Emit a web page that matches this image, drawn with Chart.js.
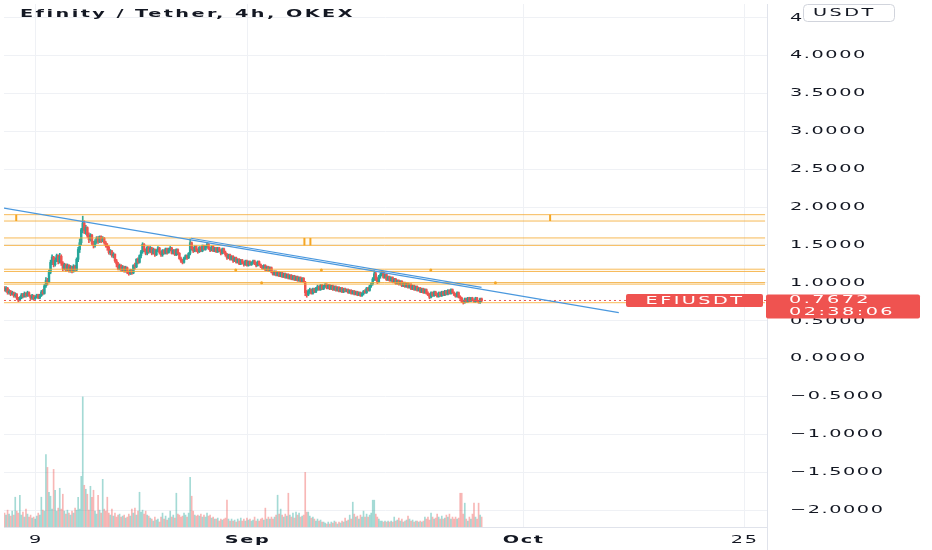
<!DOCTYPE html>
<html><head><meta charset="utf-8">
<script src="https://cdn.jsdelivr.net/npm/chart.js@4.4.0/dist/chart.umd.min.js"></script>
<style>html,body{margin:0;padding:0;background:#fff;overflow:hidden}canvas{display:block}</style>
</head><body>
<canvas id="c" width="932" height="550"></canvas>
<script>
// ---------- data ----------
const title = 'Efinity / Tether, 4h, OKEX';
const symbol = 'EFIUSDT';
const currency = 'USDT';
const countdown = '02:38:06';
const firstCandleDay = 4.6;          // days since 1 Aug 2021
const candleStepDays = 1 / 6;        // 4h candles
const firstOpen = 0.93;
const close = [
0.90,0.93,0.87,0.89,0.85,0.87, 0.83,0.85,0.80,0.77,0.80,0.84, 0.82,0.86,0.83,0.87,0.83,0.80,
0.83,0.79,0.81,0.84,0.80,0.83, 0.88,0.86,0.96,1.03,1.01,1.14, 1.27,1.34,1.24,1.30,1.36,1.28,
1.35,1.26,1.19,1.24,1.17,1.23, 1.16,1.21,1.15,1.22,1.17,1.31, 1.44,1.53,1.70,1.79,1.69,1.73,
1.62,1.57,1.63,1.52,1.49,1.55, 1.59,1.54,1.61,1.55,1.59,1.53, 1.49,1.47,1.40,1.42,1.36,1.38,
1.29,1.25,1.19,1.23,1.17,1.21, 1.16,1.20,1.14,1.12,1.17,1.13, 1.23,1.21,1.31,1.27,1.36,1.41,
1.51,1.43,1.39,1.47,1.41,1.46, 1.39,1.44,1.37,1.43,1.46,1.40, 1.37,1.43,1.39,1.45,1.40,1.44,
1.46,1.39,1.43,1.37,1.44,1.39, 1.32,1.29,1.27,1.33,1.36,1.33, 1.39,1.53,1.45,1.42,1.48,1.43,
1.41,1.47,1.42,1.49,1.44,1.48, 1.51,1.45,1.43,1.48,1.42,1.46, 1.41,1.46,1.42,1.39,1.45,1.40,
1.37,1.33,1.37,1.31,1.35,1.29, 1.33,1.27,1.31,1.25,1.30,1.26, 1.24,1.29,1.23,1.28,1.24,1.27,
1.29,1.25,1.23,1.28,1.24,1.21, 1.19,1.23,1.17,1.21,1.16,1.20, 1.14,1.11,1.15,1.10,1.14,1.09,
1.13,1.08,1.12,1.07,1.11,1.06, 1.10,1.05,1.09,1.04,1.08,1.03, 1.07,1.02,1.06,1.01,0.87,0.84,
0.89,0.91,0.86,0.92,0.88,0.93, 0.95,0.91,0.97,0.92,0.96,0.98, 0.93,0.97,0.92,0.96,0.91,0.95,
0.90,0.94,0.89,0.93,0.88,0.92, 0.89,0.91,0.87,0.90,0.86,0.89, 0.85,0.88,0.84,0.87,0.83,0.86,
0.89,0.87,0.93,0.90,0.96,0.99, 1.05,1.12,1.05,1.01,1.09,1.11, 1.14,1.07,1.11,1.04,1.08,1.03,
1.07,1.01,1.05,0.99,1.03,0.98, 1.02,0.96,1.00,0.95,0.99,0.94, 0.98,0.92,0.96,0.91,0.95,0.90,
0.93,0.88,0.92,0.87,0.91,0.86, 0.84,0.81,0.87,0.83,0.88,0.84, 0.82,0.87,0.83,0.88,0.84,0.89,
0.85,0.90,0.86,0.91,0.87,0.84, 0.82,0.87,0.81,0.80,0.75,0.74, 0.79,0.75,0.80,0.76,0.80,0.77,
0.75,0.80,0.76,0.74,0.79,0.7672
];
const high = [
0.95,0.95,0.94,0.91,0.90,0.89, 0.88,0.87,0.86,0.81,0.82,0.86, 0.86,0.88,0.87,0.89,0.88,0.84,
0.85,0.84,0.83,0.85,0.85,0.85, 0.90,0.91,0.98,1.07,1.06,1.17, 1.30,1.37,1.35,1.33,1.38,1.37,
1.39,1.37,1.28,1.26,1.25,1.25, 1.24,1.23,1.22,1.24,1.23,1.33, 1.47,1.58,1.72,1.88,1.82,1.76,
1.74,1.66,1.65,1.64,1.55,1.57, 1.61,1.61,1.62,1.62,1.61,1.60, 1.55,1.52,1.49,1.44,1.43,1.40,
1.38,1.31,1.27,1.25,1.24,1.23, 1.22,1.22,1.21,1.16,1.18,1.18, 1.24,1.26,1.32,1.33,1.37,1.43,
1.53,1.52,1.45,1.48,1.48,1.48, 1.47,1.46,1.45,1.44,1.48,1.47, 1.42,1.44,1.44,1.46,1.46,1.46,
1.48,1.47,1.44,1.44,1.45,1.45, 1.40,1.34,1.31,1.34,1.37,1.37, 1.40,1.58,1.54,1.47,1.49,1.49,
1.45,1.48,1.48,1.50,1.50,1.49, 1.53,1.52,1.47,1.49,1.49,1.47, 1.47,1.47,1.47,1.44,1.46,1.46,
1.42,1.39,1.38,1.38,1.36,1.36, 1.34,1.34,1.32,1.32,1.31,1.31, 1.28,1.30,1.30,1.29,1.29,1.28,
1.30,1.30,1.27,1.29,1.29,1.25, 1.23,1.24,1.24,1.22,1.22,1.21, 1.21,1.16,1.16,1.16,1.15,1.15,
1.14,1.14,1.13,1.13,1.12,1.12, 1.11,1.11,1.10,1.10,1.09,1.09, 1.08,1.08,1.07,1.07,1.02,0.90,
0.91,0.93,0.92,0.93,0.93,0.94, 0.97,0.96,0.98,0.98,0.97,0.99, 0.99,0.98,0.98,0.97,0.97,0.96,
0.96,0.95,0.95,0.94,0.94,0.93, 0.93,0.92,0.92,0.91,0.91,0.90, 0.90,0.89,0.89,0.88,0.88,0.87,
0.90,0.91,0.94,0.94,0.97,1.00, 1.07,1.16,1.14,1.07,1.10,1.13, 1.16,1.15,1.12,1.12,1.09,1.09,
1.08,1.08,1.06,1.06,1.04,1.04, 1.03,1.03,1.01,1.01,1.00,1.00, 0.99,0.99,0.97,0.97,0.96,0.96,
0.94,0.94,0.93,0.93,0.92,0.92, 0.88,0.86,0.88,0.88,0.89,0.89, 0.86,0.88,0.88,0.89,0.89,0.90,
0.90,0.91,0.91,0.92,0.92,0.88, 0.86,0.88,0.88,0.83,0.81,0.77, 0.80,0.80,0.81,0.81,0.81,0.81,
0.78,0.81,0.81,0.77,0.80,0.80
];
const low = [
0.89,0.88,0.85,0.85,0.83,0.84, 0.81,0.81,0.78,0.75,0.76,0.79, 0.80,0.81,0.81,0.82,0.82,0.78,
0.78,0.77,0.78,0.80,0.79,0.79, 0.82,0.84,0.85,0.94,0.97,1.00, 1.12,1.24,1.21,1.22,1.28,1.25,
1.26,1.23,1.16,1.17,1.15,1.16, 1.14,1.14,1.13,1.14,1.15,1.16, 1.28,1.40,1.50,1.66,1.65,1.64,
1.60,1.53,1.55,1.50,1.46,1.47, 1.52,1.52,1.53,1.53,1.54,1.51, 1.47,1.43,1.38,1.37,1.34,1.33,
1.27,1.21,1.17,1.17,1.15,1.15, 1.14,1.14,1.12,1.10,1.11,1.11, 1.12,1.18,1.20,1.25,1.26,1.33,
1.39,1.41,1.37,1.37,1.39,1.40, 1.37,1.38,1.35,1.36,1.41,1.38, 1.35,1.35,1.38,1.38,1.38,1.39,
1.42,1.38,1.38,1.36,1.36,1.37, 1.31,1.27,1.25,1.26,1.31,1.31, 1.32,1.37,1.43,1.40,1.41,1.41,
1.39,1.40,1.41,1.41,1.43,1.43, 1.46,1.44,1.41,1.42,1.41,1.41, 1.40,1.40,1.41,1.37,1.38,1.39,
1.35,1.31,1.32,1.30,1.30,1.27, 1.28,1.26,1.26,1.24,1.24,1.25, 1.22,1.23,1.22,1.22,1.23,1.23,
1.25,1.24,1.21,1.22,1.23,1.20, 1.18,1.18,1.16,1.16,1.15,1.15, 1.13,1.10,1.10,1.09,1.09,1.08,
1.08,1.07,1.07,1.06,1.06,1.05, 1.05,1.04,1.04,1.03,1.03,1.02, 1.02,1.01,1.01,1.00,0.83,0.81,
0.83,0.86,0.85,0.85,0.87,0.87, 0.90,0.90,0.90,0.91,0.91,0.94, 0.92,0.92,0.91,0.91,0.90,0.90,
0.89,0.89,0.88,0.88,0.87,0.87, 0.88,0.88,0.86,0.86,0.85,0.85, 0.84,0.84,0.83,0.83,0.82,0.82,
0.84,0.86,0.86,0.89,0.89,0.94, 0.97,1.03,1.03,0.99,1.00,1.06, 1.09,1.06,1.06,1.03,1.03,1.02,
1.02,1.00,1.00,0.98,0.98,0.97, 0.97,0.95,0.95,0.94,0.94,0.93, 0.93,0.91,0.91,0.90,0.90,0.89,
0.89,0.87,0.87,0.86,0.86,0.85, 0.83,0.79,0.80,0.82,0.82,0.83, 0.81,0.81,0.82,0.82,0.83,0.83,
0.84,0.84,0.85,0.85,0.86,0.83, 0.81,0.81,0.80,0.78,0.74,0.72, 0.73,0.74,0.74,0.75,0.75,0.76,
0.74,0.74,0.75,0.73,0.73,0.75
];
const volume = [ // thousand EFI
140,120,170,130,110,160, 120,300,160,140,320,120, 150,100,180,130,100,120,
90,100,80,110,140,120, 300,170,160,730,600,350, 310,180,580,370,160,190,
390,180,330,160,130,170, 140,120,160,140,190,170, 300,180,510,1310,420,380,
330,170,410,300,370,160, 130,320,170,140,480,180, 160,300,140,120,180,110,
140,100,120,130,100,110, 120,90,100,130,110,180, 140,190,120,160,350,150,
170,130,160,120,110,90, 80,60,100,70,80,50, 100,140,80,110,70,90,
160,100,120,90,340,130, 120,100,110,140,120,100, 140,500,310,160,120,110,
120,110,130,100,120,100, 140,110,120,90,100,80, 80,90,60,80,70,80,
90,270,80,60,80,60, 70,50,80,60,90,60, 80,60,90,70,80,60,
70,100,60,80,60,80, 90,70,190,80,100,80, 100,80,100,120,320,130,
180,120,100,130,110,340, 120,100,140,90,150,120, 140,100,110,120,550,150,
150,110,90,100,80,60, 80,60,70,50,50,40, 30,50,30,50,40,60,
50,30,50,40,60,50, 90,60,70,120,80,250, 130,100,110,80,120,100,
160,100,130,100,120,140, 270,270,130,100,80,60, 60,50,60,50,60,50,
60,50,100,60,70,90, 60,80,50,60,70,110, 80,60,70,50,60,60,
50,60,50,60,100,80, 100,70,140,100,80,90, 130,100,80,110,80,90,
120,100,130,80,100,80, 100,80,90,340,340,130, 240,80,60,100,80,130,
240,100,80,240,120,100
];
const xTickDays = [8, 31, 61, 85];
const xTickLabels = ['9', 'Sep', 'Oct', '25'];
const monthLabels = ['Sep', 'Oct'];
const zonePairs = [[1.900, 1.816], [1.593, 1.494], [1.180, 1.150], [1.004, 0.983]];
const supportLevel = 0.738;
const trendLineA = [[4.545, 1.986], [71.33, 0.607]];
const trendLineB = [[24.86, 1.589], [56.42, 0.941]];
const zoneEdges = [[5.874, 1.816, 1.900], [37.18, 1.494, 1.593], [37.83, 1.494, 1.593], [63.87, 1.816, 1.900]];
const zoneDots = [[29.72, 1.17], [39.02, 1.17], [50.91, 1.17], [32.53, 1.0], [57.93, 1.0]];
const X_MIN = 4.545, X_MAX = 87.43, X_LINE_END = 87.22, Y_MIN = -2.223, Y_MAX = 4.681;

// ---------- derived ----------
const lastPrice = close[close.length - 1];
const days = close.map((_, i) => firstCandleDay + i * candleStepDays);
const open = close.map((c, i) => i === 0 ? firstOpen : close[i - 1]);
const isUp = close.map((c, i) => c >= open[i]);
const UP = '#26a69a', DN = '#ef5350';
const candleColors = isUp.map(u => u ? UP : DN);
const volColors = isUp.map(u => u ? 'rgba(38,166,154,0.42)' : 'rgba(239,83,80,0.42)');
const FONT = '"DejaVu Sans", sans-serif';
const GRID = '#eff1f5';
const ORANGE = 'rgba(245,170,50,0.8)';
const TEXT_SX = 1.75;

const canvas = document.getElementById('c');
const ctx = canvas.getContext('2d');
const baseFillText = ctx.fillText;
ctx.fillText = function (text, x, y) {
  this.save();
  this.letterSpacing = this.__ls || '0.9px';
  this.translate(x, y);
  this.scale(TEXT_SX, 1);
  baseFillText.call(this, text, 0, 0);
  this.restore();
};

function seg(points, color, width, extra) {
  return Object.assign({
    type: 'line', yAxisID: 'y', data: points.map(p => ({ x: p[0], y: p[1] })),
    borderColor: color, borderWidth: width, pointRadius: 0, fill: false, tension: 0, order: 5
  }, extra || {});
}

const datasets = [
  { type: 'bar', yAxisID: 'yVol', grouped: false, order: 10, barThickness: 1,
    data: days.map((d, i) => ({ x: d, y: volume[i] })), backgroundColor: volColors },
  { type: 'bar', yAxisID: 'y', grouped: false, order: 8, barThickness: 1,
    data: days.map((d, i) => ({ x: d, y: [Math.min(low[i], open[i], close[i]), Math.max(high[i], open[i], close[i])] })),
    backgroundColor: candleColors },
  { type: 'bar', yAxisID: 'y', grouped: false, order: 7, barThickness: 1.8, minBarLength: 1.5,
    data: days.map((d, i) => ({ x: d, y: [open[i], close[i]] })), backgroundColor: candleColors }
];
zonePairs.forEach(pair => {
  datasets.push(seg([[X_MIN, pair[0]], [X_LINE_END, pair[0]]], ORANGE, 1));
  datasets.push(seg([[X_MIN, pair[1]], [X_LINE_END, pair[1]]], ORANGE, 1,
    { fill: '-1', backgroundColor: 'rgba(255,200,100,0.08)' }));
});
datasets.push(seg([[X_MIN, supportLevel], [X_LINE_END, supportLevel]], ORANGE, 1));
zoneEdges.forEach(e => datasets.push(seg([[e[0], e[1]], [e[0], e[2]]], '#f5a623', 2, { order: 4 })));
datasets.push(seg([[X_MIN, lastPrice], [X_MAX, lastPrice]], DN, 1, { borderDash: [2, 3], order: 4 }));
datasets.push(seg(trendLineA, '#4a98de', 1.2, { order: 3 }));
datasets.push(seg(trendLineB, '#4a98de', 1.2, { order: 3 }));
datasets.push({ type: 'line', yAxisID: 'y', showLine: false, order: 2,
  data: zoneDots.map(p => ({ x: p[0], y: p[1] })),
  pointRadius: 1.5, pointBackgroundColor: '#f5a623', pointBorderWidth: 0 });

function labelFor(v) {
  const k = xTickDays.indexOf(v);
  return k >= 0 ? xTickLabels[k] : '';
}
function zeroPad(s) { s.paddingTop = 0; s.paddingBottom = 0; s.paddingLeft = 0; s.paddingRight = 0; }

function roundRect(c, x, y, w, h, r) {
  c.beginPath();
  c.moveTo(x + r, y); c.lineTo(x + w - r, y); c.quadraticCurveTo(x + w, y, x + w, y + r);
  c.lineTo(x + w, y + h - r); c.quadraticCurveTo(x + w, y + h, x + w - r, y + h);
  c.lineTo(x + r, y + h); c.quadraticCurveTo(x, y + h, x, y + h - r);
  c.lineTo(x, y + r); c.quadraticCurveTo(x, y, x + r, y); c.closePath();
}

const overlay = {
  id: 'overlay',
  afterDraw(chart) {
    const c = chart.ctx, ca = chart.chartArea;
    const py = chart.scales.y.getPixelForValue(lastPrice);
    c.save();
    c.strokeStyle = '#e0e3eb'; c.lineWidth = 1;
    c.beginPath(); c.moveTo(ca.right + 0.5, ca.bottom); c.lineTo(ca.right + 0.5, chart.height); c.stroke();
    // title
    c.font = 'bold 11px ' + FONT; c.fillStyle = '#131722'; c.textAlign = 'left'; c.textBaseline = 'alphabetic';
    c.__ls = '1.4px'; c.fillText(title, 20, 17); c.__ls = null;
    // currency box
    roundRect(c, ca.right + 36.5, 4.5, 91, 17, 4);
    c.fillStyle = '#fff'; c.fill(); c.strokeStyle = '#d1d4dc'; c.stroke();
    c.font = '11px ' + FONT; c.fillStyle = '#131722'; c.textBaseline = 'middle';
    c.__ls = '1.4px'; c.fillText(currency, ca.right + 46, 13);
    // symbol label
    c.fillStyle = DN;
    roundRect(c, ca.right - 141, py - 6.5, 137, 13, 2); c.fill();
    c.fillStyle = '#fff'; c.textAlign = 'center';
    c.fillText(symbol, ca.right - 72, py + 0.5);
    // price label
    c.fillStyle = DN;
    roundRect(c, ca.right - 1, py - 6, 154, 24, 2); c.fill();
    c.fillStyle = '#fff'; c.textAlign = 'left';
    c.fillText(lastPrice.toFixed(4), ca.right + 22, py);
    c.fillText(countdown, ca.right + 22, py + 11.5);
    c.__ls = null;
    c.restore();
  }
};

new Chart(ctx, {
  type: 'bar',
  data: { datasets },
  options: {
    responsive: false, animation: false, devicePixelRatio: 1, events: [],
    layout: { padding: 0 },
    plugins: { legend: { display: false }, tooltip: { enabled: false }, title: { display: false } },
    scales: {
      x: {
        type: 'linear', min: X_MIN, max: X_MAX, offset: false,
        grid: { color: GRID, offset: false, drawTicks: false },
        border: { color: '#e0e3eb' },
        afterBuildTicks: s => { s.ticks = xTickDays.map(v => ({ value: v })); },
        afterFit: s => { s.height = 23; zeroPad(s); },
        ticks: {
          padding: 7, color: '#131722', autoSkip: false, maxRotation: 0,
          font: c => ({ family: FONT, size: 11, weight: monthLabels.includes(labelFor(c.tick ? c.tick.value : null)) ? 'bold' : 'normal' }),
          callback: v => labelFor(v)
        }
      },
      y: {
        position: 'right', min: Y_MIN, max: Y_MAX, beginAtZero: false,
        grid: { color: GRID, drawTicks: false },
        border: { color: '#e0e3eb' },
        afterFit: s => { s.width = 165; zeroPad(s); },
        ticks: {
          stepSize: 0.5, includeBounds: false, maxTicksLimit: 30, padding: 23, color: '#131722',
          font: { family: FONT, size: 11 },
          callback: v => (v < 0 ? '\u2212' : '') + Math.abs(v).toFixed(4)
        }
      },
      yVol: { display: false, min: 0, max: Math.max(...volume) * 4.02 }
    }
  },
  plugins: [overlay]
});
</script>
</body></html>
